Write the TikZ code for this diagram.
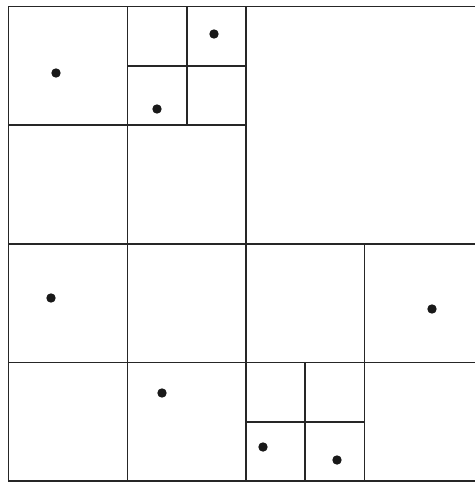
\documentclass[tikz,border=0pt]{standalone}
\begin{document}
\begin{tikzpicture}[x=1pt,y=-1pt,
  gridline/.style={draw=black!85,line width=1.1pt},
  pt/.style={fill=black!90}]
\useasboundingbox (0,0) rectangle (475,482);
% outer frame (right side cropped)
\draw[gridline] (475,6.5) -- (8.5,6.5) -- (8.5,481) -- (475,481);
% horizontal lines
\draw[gridline] (8.5,125) -- (246,125);
\draw[gridline] (8.5,244) -- (475,244);
\draw[gridline] (8.5,362.5) -- (475,362.5);
\draw[gridline] (127.5,66) -- (246,66);
\draw[gridline] (246,422) -- (364.5,422);
% vertical lines
\draw[gridline] (127.5,6.5) -- (127.5,481);
\draw[gridline] (246,6.5) -- (246,481);
\draw[gridline] (364.5,244) -- (364.5,481);
\draw[gridline] (187,6.5) -- (187,125);
\draw[gridline] (305,362.5) -- (305,481);
% points
\foreach \p in {(56,73),(214,34),(157,109),(51,298),(432,309),(162,393),(263,447),(337,460)}
  \fill[pt] \p circle (4.7);
\end{tikzpicture}
\end{document}
